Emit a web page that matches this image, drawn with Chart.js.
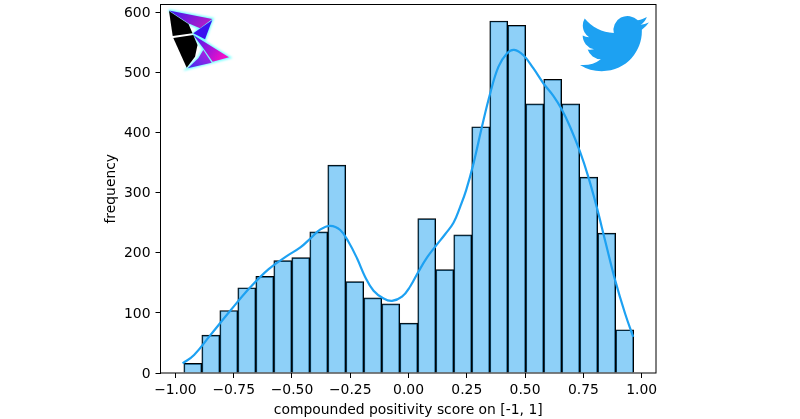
<!DOCTYPE html>
<html>
<head>
<meta charset="utf-8">
<style>
  html, body { margin: 0; padding: 0; background: #fff; overflow: hidden; }
  #wrap { position: relative; width: 800px; height: 419px; }
  #chart { position: absolute; left: 0; top: 0; }
  svg { position: absolute; left: 0; top: 0; pointer-events: none; }
</style>
<script src="https://cdn.jsdelivr.net/npm/chart.js@4"></script>
</head>
<body>
<div id="wrap">
  <canvas id="chart" width="800" height="419"></canvas>
  <svg width="800" height="419" viewBox="0 0 800 419">
    <defs>
      <linearGradient id="topWing" x1="0" y1="0" x2="1" y2="0.4">
        <stop offset="0" stop-color="#3a1cf0"/><stop offset="1" stop-color="#b01cc8"/>
      </linearGradient>
      <linearGradient id="lowWing" x1="0" y1="0" x2="1" y2="0.5">
        <stop offset="0" stop-color="#3a1cf0"/><stop offset="1" stop-color="#f010c8"/>
      </linearGradient>
      <linearGradient id="lowSmall" x1="0" y1="1" x2="1" y2="0">
        <stop offset="0" stop-color="#3a30f0"/><stop offset="1" stop-color="#c020e0"/>
      </linearGradient>
      <filter id="glow" x="-20%" y="-20%" width="140%" height="140%"><feGaussianBlur stdDeviation="0.8"/></filter>
    </defs>
    <!-- left logo -->
    <g fill="#7ff" stroke="#7ff" stroke-width="2.5" filter="url(#glow)">
      <polygon points="169,10.5 212.5,19 205,39.5 193.5,33.5 200,28.5 188.5,23.5"/>
      <polygon points="193.5,35 229.5,57.5 187.5,68.5 198.5,58 203.5,49"/>
    </g>
    <polygon fill="#000" points="169,11 188.5,24 192.5,33.3 172.7,36"/>
    <polygon fill="#000" points="173.3,38 193.3,35 197.5,45 195,56.7 186.7,67.7"/>
    <polygon fill="url(#topWing)" points="169,10.5 212.3,19 200,28.3 188.3,23.3"/>
    <polygon fill="#3a10f0" points="212.3,20 205,39.3 193.3,33.3"/>
    <polygon fill="url(#lowWing)" points="193.3,35 229,57.3 212.7,61.7 203.3,48.3"/>
    <polygon fill="url(#lowSmall)" points="203.3,50 211.7,62.7 187.7,68.3 198.3,58.3"/>
    <!-- twitter bird -->
    <g transform="translate(580,9.6) scale(2.87,2.83)">
      <path fill="#1da1f2" d="M23.953 4.57a10 10 0 01-2.825.775 4.958 4.958 0 002.163-2.723c-.951.555-2.005.959-3.127 1.184a4.92 4.92 0 00-8.384 4.482C7.69 8.095 4.067 6.13 1.64 3.162a4.822 4.822 0 00-.666 2.475c0 1.71.87 3.213 2.188 4.096a4.904 4.904 0 01-2.228-.616v.06a4.923 4.923 0 003.946 4.827 4.996 4.996 0 01-2.212.085 4.936 4.936 0 004.604 3.417 9.867 9.867 0 01-6.102 2.105c-.39 0-.779-.023-1.17-.067a13.995 13.995 0 007.557 2.209c9.053 0 13.998-7.496 13.998-13.985 0-.21 0-.42-.015-.63A9.935 9.935 0 0024 4.59z"/>
    </g>
  </svg>
</div>
<script>
var binCenters = [-0.9254, -0.8482, -0.7710, -0.6938, -0.6166, -0.5394, -0.4622, -0.3850, -0.3078, -0.2306, -0.1534, -0.0762, 0.0010, 0.0782, 0.1554, 0.2326, 0.3098, 0.3870, 0.4642, 0.5414, 0.6186, 0.6958, 0.7730, 0.8502, 0.9274];
var binCounts = [16, 63, 104, 142, 161, 187, 192, 235, 346, 152, 125, 115, 83, 257, 172, 230, 410, 586, 579, 448, 489, 448, 326, 233, 72];

var kdeX = [-0.969, -0.92, -0.85, -0.764, -0.678, -0.6, -0.521, -0.464, -0.421, -0.378, -0.336, -0.293, -0.257, -0.221, -0.186, -0.15, -0.107, -0.071, -0.028, 0.007, 0.043, 0.079, 0.114, 0.157, 0.193, 0.222, 0.247, 0.279, 0.315, 0.35, 0.386, 0.422, 0.453, 0.493, 0.536, 0.579, 0.622, 0.657, 0.693, 0.736, 0.771, 0.807, 0.843, 0.886, 0.929, 0.964];
var kdeY = [16, 30, 63, 104, 143, 173, 195, 209, 224, 239, 245, 238, 218, 191, 160, 137, 124, 120, 127, 144, 169, 192, 210, 231, 250, 277, 304, 349, 410, 465, 510, 532, 538, 529, 507, 482, 461, 439, 410, 368, 327, 277, 221, 155, 99, 60];

var xTicks = [-1, -0.75, -0.5, -0.25, 0, 0.25, 0.5, 0.75, 1];
var yTicks = [0, 100, 200, 300, 400, 500, 600];

var lineColor = '#1da1f2';
var barFill = 'rgba(29, 161, 242, 0.5)';
var fontFamily = '"DejaVu Sans", sans-serif';

// matplotlib style box round the axes
var frame = {
    id: 'frame',
    afterDatasetsDraw: function (chart) {
        var a = chart.chartArea, ctx = chart.ctx;
        ctx.save();
        ctx.strokeStyle = '#000';
        ctx.lineWidth = 1;
        ctx.strokeRect(a.left, a.top, a.right - a.left, a.bottom - a.top);
        ctx.restore();
    }
};

function pairs(xs, ys) {
    return xs.map(function (x, i) { return { x: x, y: ys[i] }; });
}

function tickOptions() {
    return { display: true, drawOnChartArea: false, drawTicks: true, tickLength: 5, tickColor: '#000', tickWidth: 1, offset: false };
}

new Chart(document.getElementById('chart').getContext('2d'), {
    type: 'bar',
    data: {
        datasets: [{
            type: 'line',
            data: pairs(kdeX, kdeY),
            borderColor: lineColor,
            borderWidth: 2.2,
            pointRadius: 0,
            tension: 0.4,
            fill: false,
            order: 0
        }, {
            type: 'bar',
            data: pairs(binCenters, binCounts),
            backgroundColor: barFill,
            borderColor: '#000',
            borderWidth: 1,
            barPercentage: 1,
            categoryPercentage: 1,
            order: 1
        }]
    },
    plugins: [frame],
    options: {
        responsive: false,
        animation: false,
        layout: { padding: { left: 103, right: 144, top: 4.5, bottom: 0 } },
        plugins: { legend: { display: false }, tooltip: { enabled: false } },
        scales: {
            x: {
                type: 'linear',
                offset: false,
                min: -1.064,
                max: 1.0617,
                grid: tickOptions(),
                border: { display: false },
                afterBuildTicks: function (s) { s.ticks = xTicks.map(function (v) { return { value: v }; }); },
                afterFit: function (s) { s.height = 46; s.paddingLeft = 0; s.paddingRight = 0; },
                ticks: {
                    color: '#000',
                    font: { family: fontFamily, size: 13.9 },
                    padding: 4,
                    maxRotation: 0,
                    autoSkip: false,
                    callback: function (v) { return v.toFixed(2).replace('-', '\u2212'); }
                },
                title: {
                    display: true,
                    text: 'compounded positivity score on [-1, 1]',
                    color: '#000',
                    font: { family: fontFamily, size: 13.9 },
                    padding: { top: 1, bottom: 0 }
                }
            },
            y: {
                min: 0,
                max: 613.5,
                grid: tickOptions(),
                border: { display: false },
                afterBuildTicks: function (s) { s.ticks = yTicks.map(function (v) { return { value: v }; }); },
                afterFit: function (s) { s.width = 57.5; s.paddingTop = 0; s.paddingBottom = 0; },
                ticks: {
                    color: '#000',
                    font: { family: fontFamily, size: 13.9 },
                    padding: 5,
                    labelOffset: 1,
                    autoSkip: false
                },
                title: {
                    display: true,
                    text: 'frequency',
                    color: '#000',
                    font: { family: fontFamily, size: 13.9 },
                    padding: 0
                }
            }
        }
    }
});
</script>
</body>
</html>
